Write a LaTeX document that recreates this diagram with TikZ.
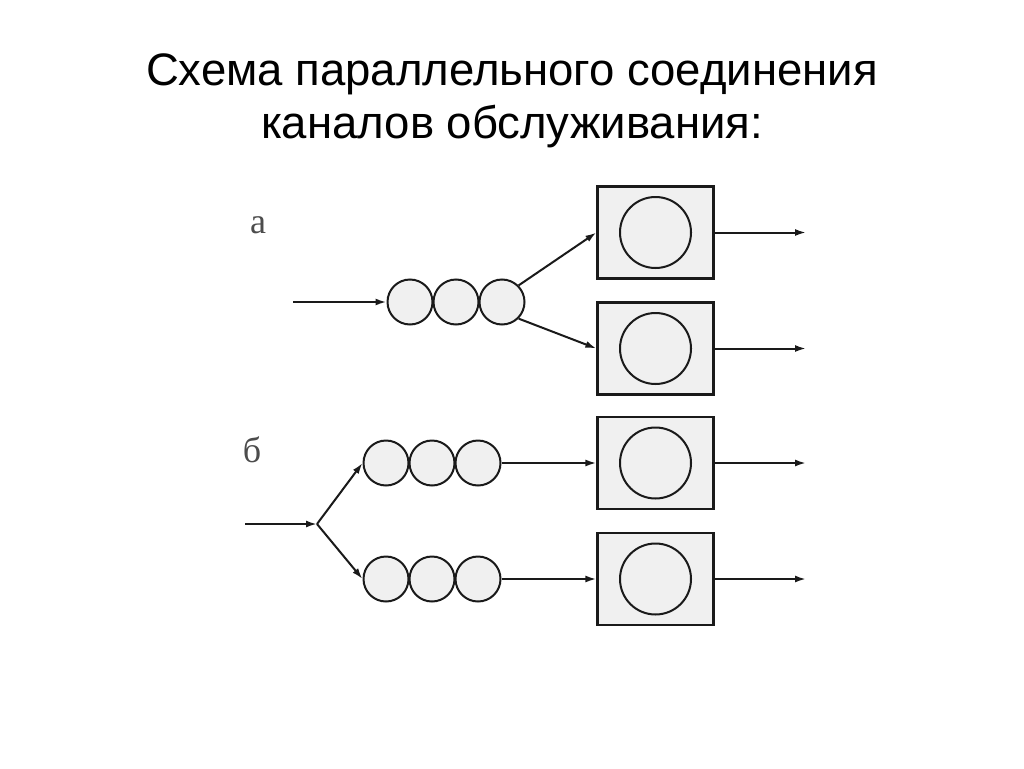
\documentclass[tikz,border=0pt]{standalone}
\usepackage{fontspec}
\setmainfont{Liberation Sans}
\newfontfamily\labelfont{Liberation Serif}
\usepackage{tikz}
\usetikzlibrary{arrows.meta, positioning}
\definecolor{chanfill}{HTML}{F0F0F0}
\definecolor{linecolor}{HTML}{1A1A1A}
\newcommand{\partlabel}[1]{{\labelfont\fontsize{36}{36}\selectfont\color{gray!60!black} #1}}

\begin{document}
\begin{tikzpicture}[
        x=1pt, y=-1pt,
        slot/.style={
            circle,
            draw=linecolor,
            line width=2pt,
            fill=chanfill,
            minimum size=45pt,
            inner sep=0pt
        },
        channel/.style={
            rectangle,
            draw=linecolor,
            line width=2.2pt,
            fill=chanfill,
            minimum width=116pt,
            minimum height=92pt,
            inner sep=0pt
        },
        server/.style={circle, draw=linecolor, line width=2pt, minimum size=71pt, inner sep=0pt},
        arrow/.style={-{Latex[length=11pt,width=7pt]}, line width=2pt, draw=linecolor}
    ]
        \useasboundingbox (0,0) rectangle (1024,768);

        % Title
        \node[font=\fontsize{45.5}{53}\selectfont, align=center] (title) at (512,101)
            {Схема параллельного соединения\\каналов обслуживания:};

        % Scheme a
        \node (labA) at (258,225) {\partlabel{а}};
        \coordinate (inA) at (293,302);
        \node[slot] (a1) at (410,302) {};
        \node[slot, right=-1pt of a1] (a2) {};
        \node[slot, right=-1pt of a2] (a3) {};
        \node[channel] (chA1) at (655.5,232.5) {};
        \node[server] (srvA1) at (chA1) {};
        \node[channel] (chA2) at (655.5,348.5) {};
        \node[server] (srvA2) at (chA2) {};
        \coordinate (outA1) at (806,232.5);
        \coordinate (outA2) at (806,348.5);

        % Scheme b
        \node (labB) at (252,450) {\partlabel{б}};
        \coordinate (inB) at (245,524);
        \coordinate (fork) at (317,524);
        \node[slot] (b1) at (386,463) {};
        \node[slot, right=-1pt of b1] (b2) {};
        \node[slot, right=-1pt of b2] (b3) {};
        \node[slot] (c1) at (386,579) {};
        \node[slot, right=-1pt of c1] (c2) {};
        \node[slot, right=-1pt of c2] (c3) {};
        \node[channel] (chB1) at (655.5,463) {};
        \node[server] (srvB1) at (chB1) {};
        \node[channel] (chB2) at (655.5,579) {};
        \node[server] (srvB2) at (chB2) {};
        \coordinate (outB1) at (806,463);
        \coordinate (outB2) at (806,579);

        % Arrows
        \draw[arrow] (inA) -- (a1.west);
        \draw[arrow] (a3.north east) -- (chA1.west);
        \draw[arrow] (a3.south east) -- (chA2.west);
        \draw[arrow] (chA1.east) -- (outA1);
        \draw[arrow] (chA2.east) -- (outA2);

        \draw[arrow] (inB) -- (fork);
        \draw[arrow] (fork) -- (b1.west);
        \draw[arrow] (fork) -- (c1.west);
        \draw[arrow] (b3.east) -- (chB1.west);
        \draw[arrow] (c3.east) -- (chB2.west);
        \draw[arrow] (chB1.east) -- (outB1);
        \draw[arrow] (chB2.east) -- (outB2);
    \end{tikzpicture}
\end{document}
